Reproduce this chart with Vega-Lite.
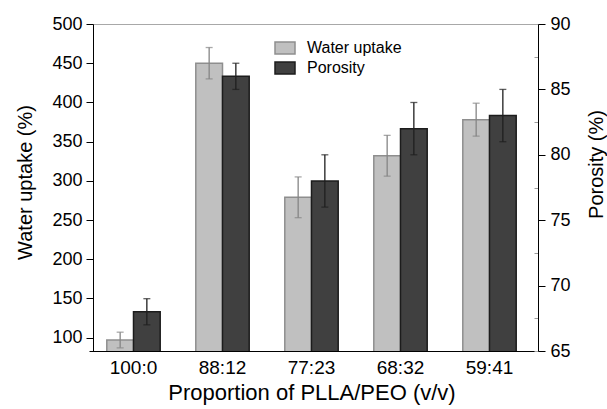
{
  "$schema": "https://vega.github.io/schema/vega-lite/v6.json",
  "width": 445,
  "height": 327,
  "autosize": {"type": "none"},
  "padding": {"left": 93, "top": 24, "right": 69, "bottom": 58},
  "background": "white",
  "config": {
    "font": "Liberation Sans",
    "view": {"stroke": "#a8a8a8", "strokeWidth": 1},
    "axis": {
      "domainColor": "black", "domainWidth": 1, "tickColor": "black", "tickWidth": 1,
      "labelColor": "black", "titleColor": "black", "titleFontWeight": "normal",
      "labelFont": "Liberation Sans", "titleFont": "Liberation Sans", "grid": false
    },
    "legend": {"labelFont": "Liberation Sans"}
  },
  "data": {"values": [
    {"prop": "100:0", "series": "Water uptake", "value": 97, "lo": 87, "hi": 107},
    {"prop": "88:12", "series": "Water uptake", "value": 450, "lo": 430, "hi": 470},
    {"prop": "77:23", "series": "Water uptake", "value": 279, "lo": 253, "hi": 305},
    {"prop": "68:32", "series": "Water uptake", "value": 332, "lo": 306, "hi": 358},
    {"prop": "59:41", "series": "Water uptake", "value": 378, "lo": 357, "hi": 399},
    {"prop": "100:0", "series": "Porosity", "value": 68, "lo": 67, "hi": 69},
    {"prop": "88:12", "series": "Porosity", "value": 86, "lo": 85, "hi": 87},
    {"prop": "77:23", "series": "Porosity", "value": 78, "lo": 76, "hi": 80},
    {"prop": "68:32", "series": "Porosity", "value": 82, "lo": 80, "hi": 84},
    {"prop": "59:41", "series": "Porosity", "value": 83, "lo": 81, "hi": 85}
  ]},
  "encoding": {
    "x": {
      "field": "prop", "type": "nominal", "sort": ["100:0", "88:12", "77:23", "68:32", "59:41"],
      "scale": {"range": [-4, 441], "paddingInner": 0.4, "paddingOuter": 0.2},
      "axis": {
        "title": "Proportion of PLLA/PEO (v/v)", "labelAngle": 0, "ticks": false,
        "labelFontSize": 19, "labelPadding": 7, "titleFontSize": 22, "titlePadding": 5
      }
    },
    "xOffset": {"field": "series", "type": "nominal", "scale": {"domain": ["Water uptake", "Porosity"], "paddingInner": 0, "paddingOuter": 0}}
  },
  "layer": [
    {
      "transform": [{"filter": "datum.series === 'Water uptake'"}],
      "encoding": {
        "y": {
          "field": "value", "type": "quantitative", "title": "Water uptake (%)",
          "scale": {"domain": [83, 500], "zero": false, "nice": false},
          "axis": {"orient": "left", "values": [100, 150, 200, 250, 300, 350, 400, 450, 500],
            "tickSize": 7, "labelPadding": 4, "labelFontSize": 18, "titleFontSize": 20, "titlePadding": 16,
            "titleY": 158}
        }
      },
      "layer": [
        {
          "mark": {"type": "bar", "clip": true, "strokeWidth": 1.5},
          "encoding": {
            "fill": {"field": "series", "type": "nominal", "scale": {"domain": ["Water uptake", "Porosity"], "range": ["#c0c0c0", "#404040"]},
              "legend": {"title": null, "orient": "none", "legendX": 181, "legendY": 13, "labelFontSize": 16,
                "symbolType": "M-1,-0.6H1V0.6H-1Z", "symbolSize": 400, "symbolStrokeWidth": 1.5, "rowPadding": 0, "labelOffset": 11, "symbolOpacity": 1}},
            "stroke": {"field": "series", "type": "nominal", "scale": {"domain": ["Water uptake", "Porosity"], "range": ["#8e8e8e", "#1c1c1c"]}}
          }
        },
        {
          "mark": {"type": "rule", "color": "#858585", "strokeWidth": 1.3},
          "encoding": {"y": {"field": "lo", "type": "quantitative", "title": "Water uptake (%)"}, "y2": {"field": "hi"}}
        },
        {
          "mark": {"type": "tick", "color": "#858585", "size": 7, "thickness": 1.3},
          "encoding": {"y": {"field": "lo", "type": "quantitative", "title": "Water uptake (%)"}}
        },
        {
          "mark": {"type": "tick", "color": "#858585", "size": 7, "thickness": 1.3},
          "encoding": {"y": {"field": "hi", "type": "quantitative", "title": "Water uptake (%)"}}
        }
      ]
    },
    {
      "transform": [{"filter": "datum.series === 'Porosity'"}],
      "encoding": {
        "y": {
          "field": "value", "type": "quantitative", "title": "Porosity (%)",
          "scale": {"domain": [65, 90], "zero": false, "nice": false},
          "axis": {"orient": "right", "values": [65, 67.5, 70, 72.5, 75, 77.5, 80, 82.5, 85, 87.5, 90],
            "labelExpr": "datum.value % 5 === 0 ? datum.label : ''",
            "tickSize": {"condition": {"test": "datum.value % 5 !== 0", "value": -4}, "value": 7},
            "tickColor": {"condition": {"test": "datum.value % 5 !== 0", "value": "#9a9a9a"}, "value": "black"},
            "labelPadding": 5, "labelFontSize": 18, "titleFontSize": 20, "titlePadding": 16,
            "titleAngle": 270, "titleBaseline": "top", "titleY": 140}
        }
      },
      "layer": [
        {
          "mark": {"type": "bar", "clip": true, "strokeWidth": 1.5},
          "encoding": {
            "fill": {"field": "series", "type": "nominal"},
            "stroke": {"field": "series", "type": "nominal"}
          }
        },
        {
          "mark": {"type": "rule", "color": "#1e1e1e", "strokeWidth": 1.3},
          "encoding": {"y": {"field": "lo", "type": "quantitative", "title": "Porosity (%)"}, "y2": {"field": "hi"}}
        },
        {
          "mark": {"type": "tick", "color": "#1e1e1e", "size": 7, "thickness": 1.3},
          "encoding": {"y": {"field": "lo", "type": "quantitative", "title": "Porosity (%)"}}
        },
        {
          "mark": {"type": "tick", "color": "#1e1e1e", "size": 7, "thickness": 1.3},
          "encoding": {"y": {"field": "hi", "type": "quantitative", "title": "Porosity (%)"}}
        }
      ]
    }
  ],
  "resolve": {"scale": {"y": "independent"}}
}
